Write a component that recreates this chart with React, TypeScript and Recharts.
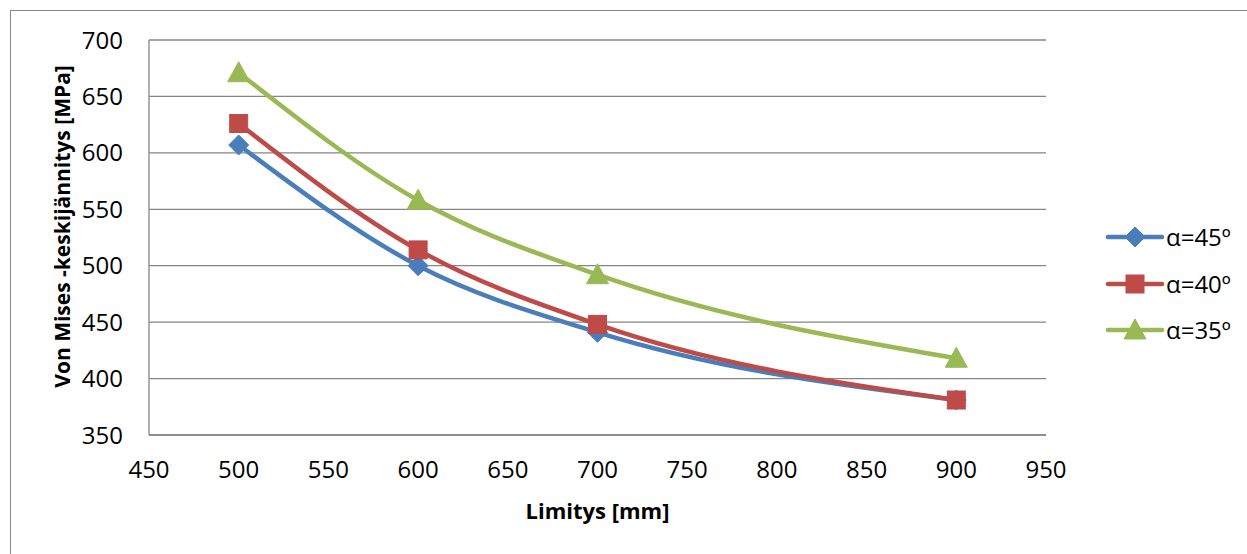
import React from "react";
import { LineChart, Line, XAxis, YAxis, CartesianGrid } from "recharts";

const limitys = [500, 600, 700, 900];
const alpha45 = [607, 500, 441, 381];
const alpha40 = [626, 514, 448, 381];
const alpha35 = [671, 558, 492, 418];

const xTicks = [450, 500, 550, 600, 650, 700, 750, 800, 850, 900, 950];
const yTicks = [350, 400, 450, 500, 550, 600, 650, 700];

const seriesNames = ["α=45º", "α=40º", "α=35º"];
const colors = ["#4A7EBB", "#BE4B48", "#98B954"];

const data = limitys.map((x, i) => ({
  x,
  a45: alpha45[i],
  a40: alpha40[i],
  a35: alpha35[i],
}));

const FONT = "'Open Sans', sans-serif";

const Marker = ({ kind, cx, cy, color }: { kind: number; cx: number; cy: number; color: string }) => {
  if (cx == null || cy == null) return null;
  if (kind === 0) {
    const r = 10;
    return (
      <path d={`M${cx},${cy - r}L${cx + r},${cy}L${cx},${cy + r}L${cx - r},${cy}Z`} fill={color} stroke={color} strokeWidth={1} />
    );
  }
  if (kind === 1) {
    const s = 9;
    return <rect x={cx - s} y={cy - s} width={2 * s} height={2 * s} fill={color} stroke={color} strokeWidth={1} />;
  }
  const h = 10;
  return (
    <path d={`M${cx},${cy - h - 1}L${cx + h + 1},${cy + h - 1}L${cx - h - 1},${cy + h - 1}Z`} fill={color} stroke={color} strokeWidth={1} />
  );
};

const makeDot = (kind: number) => (props: any) => (
  <Marker key={`${kind}-${props.index}`} kind={kind} cx={props.cx} cy={props.cy} color={colors[kind]} />
);

const YTitle = (props: any) => {
  const vb = props.viewBox || {};
  const x = vb.x + 62;
  const y = vb.y + vb.height / 2 - 11;
  return (
    <text x={x} y={y} transform={`rotate(-90, ${x}, ${y})`} textAnchor="middle" dominantBaseline="central"
      fontFamily={FONT} fontWeight="bold" fontSize={21} fill="#000">
      Von Mises -keskijännitys [MPa]
    </text>
  );
};

const XTitle = (props: any) => {
  const vb = props.viewBox || {};
  return (
    <text x={vb.x + vb.width / 2} y={vb.y + 84} textAnchor="middle"
      fontFamily={FONT} fontWeight="bold" fontSize={22} fill="#000">
      Limitys [mm]
    </text>
  );
};

export default function App() {
  return (
    <div style={{ position: "absolute", left: 0, top: 0, width: 1247, height: 554, overflow: "hidden", background: "#fff" }}>
      <div style={{ position: "absolute", left: 10, top: 10, width: 1300, height: 700, border: "1px solid #868686" }} />
      <div style={{ position: "absolute", left: 0, top: 0 }}>
        <LineChart width={1247} height={554} data={data} margin={{ top: 40, right: 201, bottom: 0, left: 0 }}>
          <CartesianGrid vertical={false} stroke="#868686" strokeWidth={1.3} />
          <XAxis
            dataKey="x"
            type="number"
            domain={[450, 950]}
            ticks={xTicks}
            interval={0}
            height={119}
            tickLine={false}
            tickSize={6}
            tickMargin={20}
            axisLine={{ stroke: "#868686", strokeWidth: 1.3 }}
            tick={{ fill: "#000", fontSize: 24, fontFamily: FONT }}
            label={<XTitle />}
          />
          <YAxis
            type="number"
            domain={[350, 700]}
            ticks={yTicks}
            interval={0}
            width={149}
            tickLine={false}
            tickSize={6}
            tickMargin={20}
            axisLine={{ stroke: "#868686", strokeWidth: 1.3 }}
            tick={{ fill: "#000", fontSize: 24, fontFamily: FONT }}
            label={<YTitle />}
          />
          <Line type="monotone" dataKey="a45" name={seriesNames[0]} stroke={colors[0]} strokeWidth={4.5}
            dot={makeDot(0)} activeDot={false} isAnimationActive={false} />
          <Line type="monotone" dataKey="a40" name={seriesNames[1]} stroke={colors[1]} strokeWidth={4.5}
            dot={makeDot(1)} activeDot={false} isAnimationActive={false} />
          <Line type="monotone" dataKey="a35" name={seriesNames[2]} stroke={colors[2]} strokeWidth={4.5}
            dot={makeDot(2)} activeDot={false} isAnimationActive={false} />
        </LineChart>
      </div>
      {seriesNames.map((name, i) => (
        <div key={name} style={{ position: "absolute", left: 1105, top: 237 + i * 46.5 - 16, height: 32, display: "flex", alignItems: "center" }}>
          <svg width={60} height={32}>
            <line x1={3} y1={16} x2={57} y2={16} stroke={colors[i]} strokeWidth={4.5} strokeLinecap="round" />
            <Marker kind={i} cx={30} cy={16} color={colors[i]} />
          </svg>
          <span style={{ fontFamily: FONT, fontSize: 24, marginLeft: 1, color: "#000", lineHeight: "32px" }}>{name}</span>
        </div>
      ))}
    </div>
  );
}
